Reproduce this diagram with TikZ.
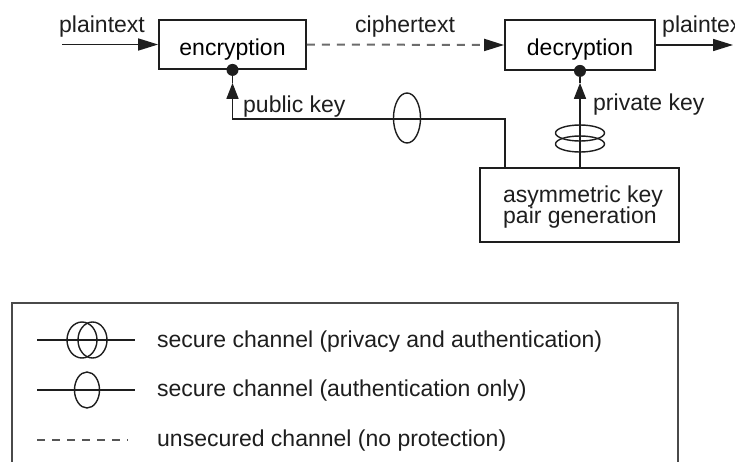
\documentclass[tikz,border=0pt]{standalone}
\usepackage{fontspec}
\setmainfont{Liberation Sans}
\usetikzlibrary{arrows.meta,calc}

\definecolor{ink}{HTML}{1E1E1E}
\definecolor{frame}{HTML}{4A4A4A}

\tikzset{
  wire/.style={draw=ink, line width=1.6pt},
  tip/.style={-{Triangle[length=20pt,width=12pt,fill=ink]}},
  uptip/.style={-{Triangle[length=16pt,width=12pt,fill=ink]}},
  box/.style={draw=ink, line width=1.8pt, inner sep=0pt,
              text height=21pt, text depth=0pt},
  lbl/.style={anchor=base west, inner sep=0pt, text=ink},
  keydot/.style={circle, fill=ink, inner sep=0pt, minimum size=12pt},
  insecure/.style={draw=gray!85!black, line width=2pt, dash pattern=on 8pt off 7pt},
  ring/.style={draw=ink, line width=1.4pt},
}

\begin{document}
\begin{tikzpicture}[x=1pt, y=-1pt, font=\fontsize{23}{26}\selectfont]
  \useasboundingbox (0,0) rectangle (735,461);
  \clip (0,0) rectangle (735,461);
  \fill[white] (0,0) rectangle (735,461);

  % boxes
  \node[box, minimum width=147pt, minimum height=49pt] (enc) at (232.5,44.5) {encryption};
  \node[box, minimum width=150pt, minimum height=50pt] (dec) at (580,45) {decryption};
  \node[box, minimum width=199pt, minimum height=74pt] (gen) at (579.5,205) {};
  \node[lbl] (gentext) at (503,202) {asymmetric key};
  \node[lbl] (gentext2) at (503,223) {pair generation};

  % key inputs
  \node[keydot] (encdot) at (enc.south) {};
  \node[keydot] (decdot) at (dec.south) {};
  \coordinate (pktip) at ($(enc.south)+(0,13)$);
  \coordinate (pkturn) at ($(enc.south)+(0,49)$);
  \coordinate (pkdrop) at ($(gen.north)+(-74.5,0)$);
  \coordinate (sktip) at ($(dec.south)+(0,12)$);
  \coordinate (skbase) at (dec.south |- gen.north);

  % plaintext in, ciphertext across, plaintext out
  \coordinate (ptin) at (62,44.5);
  \coordinate (ptout) at (733,45);
  \draw[wire, tip] (ptin) -- (enc.west);
  \draw[insecure, -{Triangle[length=20pt,width=12pt,fill=ink,color=ink]}] (enc.east) -- (dec.west);
  \draw[wire, tip] (dec.east) -- (ptout);

  \node[lbl] (ptinlbl) at (59,32) {plaintext};
  \node[lbl] (ctlbl) at (355,32) {ciphertext};
  \node[lbl] (ptoutlbl) at (662,32) {plaintext};

  % public key: authenticated channel
  \draw[wire, uptip] (pkdrop) |- (pkturn) -- (pktip);
  \draw[wire] (pktip) -- (encdot);
  \draw[ring] (407,118) ellipse [x radius=13.5pt, y radius=25pt];
  \node[lbl] (pklbl) at (243,112) {public key};

  % private key: private and authenticated channel
  \draw[wire, uptip] (skbase) -- (sktip);
  \draw[wire] (sktip) -- (decdot);
  \draw[ring] (580,133) ellipse [x radius=24.5pt, y radius=8pt];
  \draw[ring] (580,144) ellipse [x radius=24.5pt, y radius=8pt];
  \node[lbl] (sklbl) at (593,110) {private key};

  % legend
  \draw[draw=frame, line width=1.8pt] (12,303) rectangle (678,480);

  \coordinate (l1a) at (37,340);  \coordinate (l1b) at (135,340);
  \draw[wire] (l1a) -- (l1b);
  \draw[ring] (82,340) ellipse [x radius=15pt, y radius=18pt];
  \draw[ring] (92.5,340) ellipse [x radius=14.5pt, y radius=18pt];
  \node[lbl] (leg1) at (157,347) {secure channel (privacy and authentication)};

  \coordinate (l2a) at (37,390);  \coordinate (l2b) at (135,390);
  \draw[wire] (l2a) -- (l2b);
  \draw[ring] (87,390) ellipse [x radius=12.5pt, y radius=18pt];
  \node[lbl] (leg2) at (157,396) {secure channel (authentication only)};

  \coordinate (l3a) at (37,440);  \coordinate (l3b) at (128,440);
  \draw[insecure, draw=ink!75] (l3a) -- (l3b);
  \node[lbl] (leg3) at (157,446) {unsecured channel (no protection)};
\end{tikzpicture}
\end{document}
